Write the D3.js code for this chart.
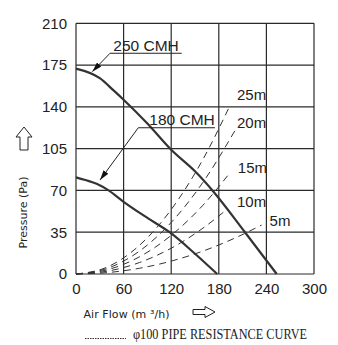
<!DOCTYPE html>
<html>
<head>
<meta charset="utf-8">
<script src="https://cdn.jsdelivr.net/npm/d3@7"></script>
<style>
body { margin: 0; background: #fff; }
</style>
</head>
<body>
<div id="chart"></div>
<script>
// axis ticks
const xTicks = [0, 60, 120, 180, 240, 300]
const yTicks = [0, 35, 70, 105, 140, 175, 210]

// fan curves (flow m3/h, pressure Pa)
const flow250 = [0, 30, 47, 60, 90, 120, 150, 172, 213, 253]
const pres250 = [172, 164, 154, 146, 126, 104, 86, 70, 35, 0]
const flow180 = [0, 13, 26, 41, 60, 90, 118, 150, 178]
const pres180 = [81, 78.5, 75.5, 70, 60.5, 47, 35, 17, 0]

// pipe resistance curves
const pipeNames = ["25m", "20m", "15m", "10m", "5m"]
const pipeFlows = [
    [0, 40, 80, 120, 160, 194],
    [0, 40, 80, 120, 160, 202],
    [0, 40, 80, 120, 160, 195],
    [0, 40, 80, 120, 160, 190],
    [0, 40, 80, 120, 160, 200, 234]
]
const pipePres = [
    [0, 6, 24, 54, 96, 141],
    [0, 4.8, 19.2, 43.2, 76.8, 122],
    [0, 3.6, 14.4, 32.4, 57.6, 85.6],
    [0, 2.4, 9.6, 21.6, 38.4, 54],
    [0, 1.2, 4.8, 10.8, 19.2, 30, 41]
]
const pipeLabelFlow = [203, 203, 204, 203, 244]
const pipeLabelPres = [150, 126.5, 89, 61, 44.5]

// fan labels: text, text anchor, underline start/end, arrow tip
const fanNames = ["250 CMH", "180 CMH"]
const fanText = [[47, 187], [92.4, 124.8]]
const fanLine = [[42.9, 133.2, 184.9], [78.5, 175.2, 122.5]]
const fanTip = [[20.5, 169.5], [30.3, 78.7]]

let svg
let x
let y
document.addEventListener("DOMContentLoaded", setup)

function setup() {
    const width = 338
    const height = 345
    const margin = {top: 23.3, right: 24, bottom: 71, left: 76}
    svg = d3.select("#chart").append("svg")
        .attr("width", width)
        .attr("height", height)
        .style("font-family", "'Liberation Sans', Arial, sans-serif")

    x = d3.scaleLinear().domain([0, 300]).range([margin.left, width - margin.right])
    y = d3.scaleLinear().domain([0, 210]).range([height - margin.bottom, margin.top])

    svg.append("defs").append("marker")
        .attr("id", "tip")
        .attr("viewBox", "0 0 10 6")
        .attr("refX", 10)
        .attr("refY", 3)
        .attr("markerWidth", 10)
        .attr("markerHeight", 6)
        .attr("markerUnits", "userSpaceOnUse")
        .attr("orient", "auto")
        .append("path")
        .attr("d", "M0,0 L10,3 L0,6 Z")
        .attr("fill", "#111")

    drawGrid()
    drawPipes()
    drawFans()
    drawTitles()
}

function drawGrid() {
    const grid = svg.append("g")
    grid.selectAll(".vx")
        .data(xTicks)
        .enter()
        .append("line")
        .attr("x1", d => x(d))
        .attr("x2", d => x(d))
        .attr("y1", y(0))
        .attr("y2", y(210))
        .attr("stroke", "#2a2a2a")
        .attr("stroke-width", 1.2)
    grid.selectAll(".hy")
        .data(yTicks)
        .enter()
        .append("line")
        .attr("x1", x(0))
        .attr("x2", x(300))
        .attr("y1", d => y(d))
        .attr("y2", d => y(d))
        .attr("stroke", "#2a2a2a")
        .attr("stroke-width", 1.2)

    const xAxis = d3.axisBottom(x).tickValues(xTicks).tickSize(0).tickPadding(9)
    const gx = svg.append("g")
        .attr("transform", "translate(0," + y(0) + ")")
        .call(xAxis)
    gx.select(".domain").remove()
    gx.selectAll("text")
        .attr("font-size", 15)
        .attr("font-family", "'Liberation Sans', Arial, sans-serif")
        .attr("fill", "#222")

    const yAxis = d3.axisLeft(y).tickValues(yTicks).tickSize(0).tickPadding(9)
    const gy = svg.append("g")
        .attr("transform", "translate(" + x(0) + ",0)")
        .call(yAxis)
    gy.select(".domain").remove()
    gy.selectAll("text")
        .attr("font-size", 15)
        .attr("font-family", "'Liberation Sans', Arial, sans-serif")
        .attr("fill", "#222")
}

function drawPipes() {
    const line = d3.line()
        .x(d => x(d[0]))
        .y(d => y(d[1]))
        .curve(d3.curveMonotoneX)

    pipeNames.forEach((name, i) => {
        const pts = pipeFlows[i].map((f, j) => [f, pipePres[i][j]])
        svg.append("path")
            .attr("d", line(pts))
            .attr("fill", "none")
            .attr("stroke", "#333")
            .attr("stroke-width", 1)
            .attr("stroke-dasharray", "7,5")
        svg.append("text")
            .attr("x", x(pipeLabelFlow[i]))
            .attr("y", y(pipeLabelPres[i]))
            .attr("dy", "0.36em")
            .attr("font-size", 15)
            .attr("fill", "#222")
            .text(name)
    })
}

function drawFans() {
    const line = d3.line()
        .x(d => x(d[0]))
        .y(d => y(d[1]))
        .curve(d3.curveMonotoneX)

    const fans = [
        flow250.map((f, j) => [f, pres250[j]]),
        flow180.map((f, j) => [f, pres180[j]])
    ]
    fans.forEach((pts, i) => {
        svg.append("path")
            .attr("d", line(pts))
            .attr("fill", "none")
            .attr("stroke", "#333")
            .attr("stroke-width", 2.2)

        svg.append("text")
            .attr("x", x(fanText[i][0]))
            .attr("y", y(fanText[i][1]))
            .attr("font-size", 15.5)
            .attr("fill", "#222")
            .text(fanNames[i])
        svg.append("line")
            .attr("x1", x(fanLine[i][0]))
            .attr("x2", x(fanLine[i][1]))
            .attr("y1", y(fanLine[i][2]))
            .attr("y2", y(fanLine[i][2]))
            .attr("stroke", "#222")
            .attr("stroke-width", 1)
        svg.append("line")
            .attr("x1", x(fanLine[i][0]))
            .attr("y1", y(fanLine[i][2]))
            .attr("x2", x(fanTip[i][0]))
            .attr("y2", y(fanTip[i][1]))
            .attr("stroke", "#222")
            .attr("stroke-width", 1)
            .attr("marker-end", "url(#tip)")
    })
}

function drawTitles() {
    // y title with hollow arrow
    svg.append("text")
        .attr("transform", "translate(27,212.5) rotate(-90)")
        .attr("text-anchor", "middle")
        .attr("font-size", 11)
        .attr("font-family", "'DejaVu Sans', sans-serif")
        .attr("textLength", 72)
        .attr("lengthAdjust", "spacing")
        .attr("fill", "#222")
        .text("Pressure (Pa)")
    svg.append("path")
        .attr("d", "M24,127 L32,137 L28,137 L28,150 L20,150 L20,137 L16,137 Z")
        .attr("fill", "#fff")
        .attr("stroke", "#222")
        .attr("stroke-width", 1)

    // x title with hollow arrow
    svg.append("text")
        .attr("x", 83.5)
        .attr("y", 318)
        .attr("font-size", 11)
        .attr("font-family", "'DejaVu Sans', sans-serif")
        .attr("textLength", 86)
        .attr("lengthAdjust", "spacing")
        .attr("fill", "#222")
        .text("Air Flow (m \u00b3/h)")
    svg.append("path")
        .attr("d", "M193,309.5 L205,309.5 L205,306.5 L215,312 L205,317.5 L205,314.5 L193,314.5 Z")
        .attr("fill", "#fff")
        .attr("stroke", "#222")
        .attr("stroke-width", 1)

    // footer legend
    svg.append("line")
        .attr("x1", 85)
        .attr("x2", 126)
        .attr("y1", 338.5)
        .attr("y2", 338.5)
        .attr("stroke", "#333")
        .attr("stroke-width", 1)
        .attr("stroke-dasharray", "1.5,1")
    svg.append("text")
        .attr("x", 133)
        .attr("y", 339)
        .attr("font-size", 14)
        .attr("font-family", "'Liberation Serif', serif")
        .attr("textLength", 174)
        .attr("lengthAdjust", "spacingAndGlyphs")
        .attr("fill", "#222")
        .text("\u03c6100 PIPE RESISTANCE CURVE")
}
</script>
</body>
</html>
